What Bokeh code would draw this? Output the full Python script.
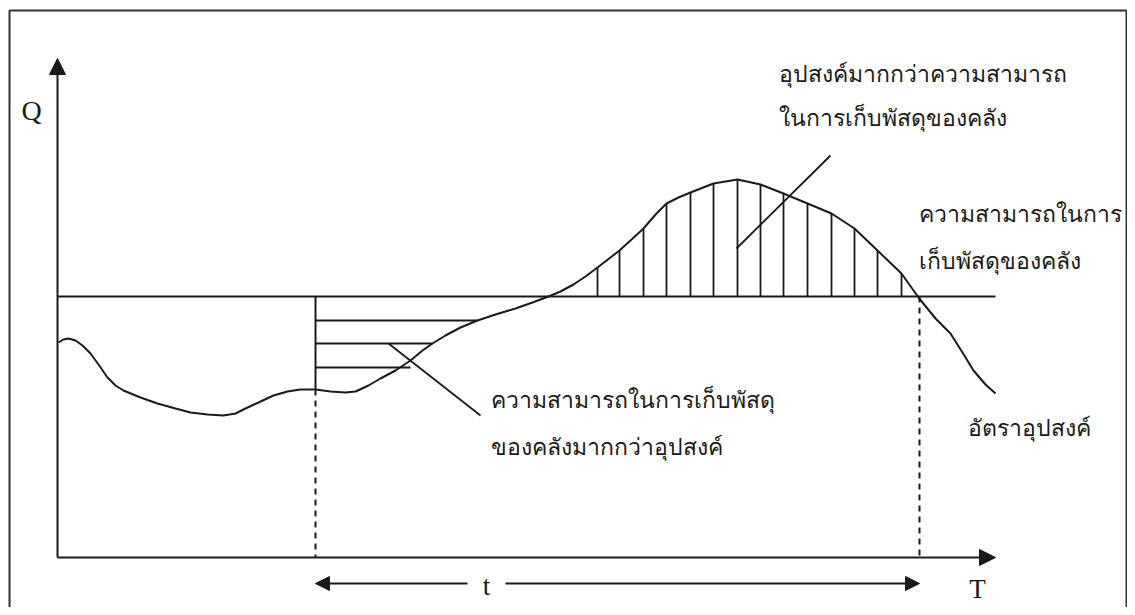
from bokeh.plotting import figure
from bokeh.models import Range1d, Arrow, NormalHead
from bokeh.core.properties import value
from bokeh.embed import file_html
from bokeh.resources import INLINE

# ---- data (screen-like units, y grows downward) ----
# demand curve (อัตราอุปสงค์)
demand_x = [58, 63, 68, 75, 82, 90, 98, 107, 115, 123, 140, 157, 175, 190, 207, 223, 235, 245,
            258, 273, 287, 300, 315, 330, 345, 355, 368, 380, 395, 410, 422, 432, 445, 460,
            477, 495, 515, 532, 548, 560, 573, 585, 597, 619, 643, 656, 666, 678, 690, 713,
            737, 760, 783, 807, 831, 854, 877, 901, 918, 935, 950, 962, 973, 985, 995]
demand_y = [342, 339, 338, 340, 345, 353, 364, 377, 385, 390, 397, 403, 408, 412, 414, 415, 413, 408,
            402, 395, 391, 389, 389, 391, 392, 391, 385, 378, 370, 360, 350, 343, 335, 327,
            320, 314, 308, 302, 296, 291, 284, 276, 267, 250, 228, 213, 203, 197, 192, 183,
            179, 184, 193, 203, 213, 228, 250, 273, 297, 318, 333, 352, 370, 384, 393]

capacity_level = 296          # ความสามารถในการเก็บพัสดุของคลัง
capacity_x = [57, 995]

# vertical hatching where demand exceeds capacity
vhatch_x = [597, 619, 643, 666, 690, 713, 737, 760, 783, 807, 831, 854, 877, 901]
vhatch_top = [267, 250, 228, 203, 192, 183, 179, 184, 193, 203, 213, 228, 250, 273]

# horizontal hatching where capacity exceeds demand
hhatch_y = [320, 343, 367]
hhatch_end = [477, 432, 410]
period_start = 315
period_end = 919
curve_at_start = 389
axis_x0 = 57
axis_y0 = 557
axis_x_tip = 995
axis_y_tip = 58

labels_th = ["อุปสงค์มากกว่าความสามารถ", "ในการเก็บพัสดุของคลัง",
             "ความสามารถในการ", "เก็บพัสดุของคลัง",
             "ความสามารถในการเก็บพัสดุ", "ของคลังมากกว่าอุปสงค์",
             "อัตราอุปสงค์"]
labels_x = [778, 778, 918, 918, 490, 490, 967]
labels_y = [72, 116, 212, 259, 398, 445, 426]

leader_x0 = [736, 388]
leader_y0 = [248, 343]
leader_x1 = [830, 480]
leader_y1 = [155, 415]

# ---- figure ----
p = figure(width=1127, height=607, x_range=Range1d(0, 1127), y_range=Range1d(607, 0),
           output_backend="svg", toolbar_location=None,
           min_border=0, min_border_left=0, min_border_right=0,
           min_border_top=0, min_border_bottom=0)
p.axis.visible = False
p.grid.visible = False
p.outline_line_color = None
p.background_fill_color = "white"

ink = "#1a1a1a"

# frame
p.line([1126, 1126, 9, 9], [620, 10, 10, 620], line_color="#333333", line_width=2)

# axes with arrows
p.add_layout(Arrow(end=NormalHead(size=16, fill_color=ink, line_color=ink),
                   x_start=axis_x0, y_start=axis_y0, x_end=axis_x0, y_end=axis_y_tip,
                   line_color=ink, line_width=2))
p.add_layout(Arrow(end=NormalHead(size=16, fill_color=ink, line_color=ink),
                   x_start=axis_x0, y_start=axis_y0, x_end=axis_x_tip, y_end=axis_y0,
                   line_color=ink, line_width=2))

# capacity line
p.line(capacity_x, [capacity_level, capacity_level], line_color=ink, line_width=2)

# period boundaries
p.segment(x0=[period_start], y0=[capacity_level], x1=[period_start], y1=[curve_at_start],
          line_color=ink, line_width=2)
p.segment(x0=[period_start, period_end], y0=[curve_at_start, capacity_level],
          x1=[period_start, period_end], y1=[axis_y0, axis_y0],
          line_color=ink, line_width=2, line_dash="6 5")

# hatching
p.segment(x0=vhatch_x, y0=[capacity_level] * len(vhatch_x), x1=vhatch_x, y1=vhatch_top,
          line_color=ink, line_width=1.8)
p.segment(x0=[period_start] * len(hhatch_y), y0=hhatch_y, x1=hhatch_end, y1=hhatch_y,
          line_color=ink, line_width=1.8)

# demand curve
p.line(demand_x, demand_y, line_color=ink, line_width=2)

# leader lines
p.segment(x0=leader_x0, y0=leader_y0, x1=leader_x1, y1=leader_y1, line_color=ink, line_width=1.8)

# period double arrow
p.add_layout(Arrow(end=NormalHead(size=14, fill_color=ink, line_color=ink),
                   x_start=467, y_start=583, x_end=period_start, y_end=583,
                   line_color=ink, line_width=2))
p.add_layout(Arrow(end=NormalHead(size=14, fill_color=ink, line_color=ink),
                   x_start=505, y_start=583, x_end=period_end, y_end=583,
                   line_color=ink, line_width=2))

# Thai labels
p.text(x=labels_x, y=labels_y, text=labels_th, text_font=value("Noto Sans"),
       text_font_size="23px", text_baseline="middle", text_align="left", text_color=ink)

# axis letters
p.text(x=[21], y=[110], text=["Q"], text_font=value("Liberation Serif"),
       text_font_size="28px", text_baseline="middle", text_align="left", text_color=ink)
p.text(x=[486, 977], y=[585, 588], text=["t", "T"], text_font=value("Liberation Serif"),
       text_font_size="27px", text_baseline="middle", text_align="center", text_color=ink)

open("out.html", "w").write(file_html(p, INLINE))
